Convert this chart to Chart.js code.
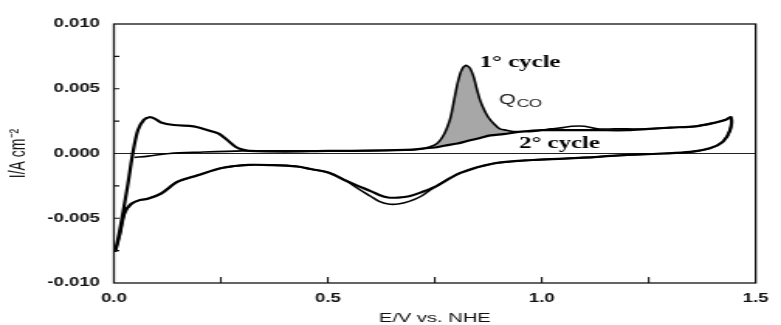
<!DOCTYPE html>
<html>
<head>
<meta charset="utf-8">
<script src="https://cdn.jsdelivr.net/npm/chart.js@4/dist/chart.umd.min.js"></script>
<style>
  html, body { margin: 0; padding: 0; background: #fff; overflow: hidden; }
  /* the original figure is stretched sideways, so draw narrow and scale */
  #wrap { width: 504px; height: 325px; transform: scaleX(1.5496); transform-origin: 0 0; }
</style>
</head>
<body>
<div id="wrap"><canvas id="cv" width="504" height="325"></canvas></div>
<script>
// 1st cycle, anodic sweep (CO stripping peak)
const c1AnodE = [0.048, 0.08, 0.13, 0.2, 0.3, 0.4, 0.5, 0.6, 0.66, 0.7, 0.726, 0.749, 0.762, 0.772, 0.78, 0.787, 0.795, 0.803, 0.812, 0.822, 0.832, 0.841, 0.848, 0.856, 0.865, 0.875, 0.888, 0.902, 0.918, 0.933, 0.956, 0.979, 1.02, 1.05, 1.07, 1.1, 1.13, 1.17, 1.2, 1.25, 1.3, 1.36, 1.407, 1.43, 1.442];
const c1AnodI = [-0.0003, -0.0002, 0.0, 0.0001, 0.0002, 0.0002, 0.0002, 0.00022, 0.00025, 0.0003, 0.0004, 0.00064, 0.001, 0.0015, 0.0021, 0.0028, 0.0041, 0.0054, 0.0064, 0.0068, 0.0066, 0.0059, 0.005, 0.0041, 0.0034, 0.0028, 0.0023, 0.0019, 0.0018, 0.0017, 0.0017, 0.0017, 0.0019, 0.002, 0.0021, 0.0021, 0.0019, 0.0019, 0.0019, 0.0019, 0.002, 0.0021, 0.0024, 0.0026, 0.0028];

// 2nd cycle, anodic sweep (clean Pt)
const c2AnodE = [0.003, 0.012, 0.021, 0.033, 0.044, 0.056, 0.07, 0.083, 0.095, 0.11, 0.14, 0.186, 0.21, 0.23, 0.247, 0.27, 0.285, 0.3, 0.316, 0.4, 0.5, 0.6, 0.7, 0.726, 0.749, 0.772, 0.803, 0.83, 0.856, 0.88, 0.91, 0.956, 1.0, 1.07, 1.13, 1.2, 1.25, 1.3, 1.36, 1.407, 1.43, 1.442];
const c2AnodI = [-0.0076, -0.0062, -0.0046, -0.0023, 0.0, 0.0018, 0.0026, 0.0028, 0.0027, 0.0024, 0.0022, 0.0021, 0.0019, 0.0017, 0.0015, 0.0009, 0.0005, 0.0003, 0.0002, 0.00015, 0.0002, 0.00022, 0.0003, 0.0004, 0.00046, 0.0006, 0.00077, 0.001, 0.0012, 0.0014, 0.0015, 0.0017, 0.0018, 0.0018, 0.0018, 0.0018, 0.0019, 0.002, 0.0021, 0.0024, 0.0026, 0.0028];

// cathodic sweeps (both cycles share potentials)
const cathE = [1.44, 1.423, 1.393, 1.347, 1.285, 1.2, 1.131, 1.05, 0.979, 0.887, 0.81, 0.749, 0.718, 0.69, 0.664, 0.641, 0.62, 0.6, 0.57, 0.542, 0.504, 0.46, 0.427, 0.37, 0.316, 0.255, 0.194, 0.148, 0.11, 0.079, 0.06, 0.04, 0.025, 0.014, 0.003];
const c1CathI = [0.0018, 0.0009, 0.0004, 0.00012, 0.0, -0.0001, -0.00026, -0.0004, -0.0005, -0.00077, -0.0015, -0.0026, -0.0033, -0.0037, -0.0039, -0.0039, -0.0037, -0.0033, -0.0027, -0.0021, -0.0015, -0.0012, -0.001, -0.0009, -0.00088, -0.0011, -0.0017, -0.0022, -0.0031, -0.0035, -0.0036, -0.0039, -0.0046, -0.0062, -0.0076];
const c2CathI = [0.0018, 0.0009, 0.0004, 0.00012, 0.0, -0.0001, -0.00026, -0.0004, -0.0005, -0.00077, -0.0015, -0.0026, -0.003, -0.0033, -0.0034, -0.0034, -0.0032, -0.0029, -0.0025, -0.0021, -0.0015, -0.0012, -0.001, -0.0009, -0.00088, -0.0011, -0.0017, -0.0022, -0.0031, -0.0035, -0.0036, -0.0039, -0.0046, -0.0062, -0.0076];

// Q_CO shaded region limits
const qcoFrom = 0.72;
const qcoTo = 0.96;

// axis ticks
const xTickMarks = [0.25, 0.5, 0.75, 1.0, 1.25];
const yTickMarks = [-0.0075, -0.005, -0.0025, 0.0025, 0.005, 0.0075];

// text notes placed in data coordinates
const noteText = ['1° cycle', '2° cycle'];
const noteE = [0.855, 0.947];
const noteI = [0.00697, 0.00077];
const qcoLabelE = 0.9;
const qcoLabelI = 0.0041;

const toPts = (xs, ys) => xs.map((v, i) => ({ x: v, y: ys[i] }));
const inQco = (p) => p.x >= qcoFrom && p.x <= qcoTo;

const cycle1 = toPts(c1AnodE, c1AnodI).concat(toPts(cathE, c1CathI));
const cycle2 = toPts(c2AnodE, c2AnodI).concat(toPts(cathE, c2CathI));
const qcoTop = toPts(c1AnodE, c1AnodI).filter(inQco);
const qcoBottom = toPts(c2AnodE, c2AnodI).filter(inQco);

const decor = {
  id: 'decor',
  afterDraw(chart) {
    const { ctx, chartArea: a, scales: { x, y } } = chart;
    ctx.save();
    ctx.strokeStyle = '#111';
    ctx.lineWidth = 1.3;
    ctx.strokeRect(a.left, a.top, a.right - a.left, a.bottom - a.top);

    ctx.lineWidth = 1.1;
    ctx.beginPath();
    xTickMarks.forEach((v) => {
      const px = x.getPixelForValue(v);
      ctx.moveTo(px, a.bottom);
      ctx.lineTo(px, a.bottom - 6);
    });
    yTickMarks.forEach((v) => {
      const py = y.getPixelForValue(v);
      ctx.moveTo(a.left, py);
      ctx.lineTo(a.left + 3.5, py);
    });
    ctx.stroke();

    ctx.fillStyle = '#000';
    ctx.textBaseline = 'middle';
    ctx.textAlign = 'left';
    ctx.font = 'bold 16px "Liberation Serif", "Times New Roman", serif';
    noteText.forEach((t, i) => {
      ctx.fillText(t, x.getPixelForValue(noteE[i]), y.getPixelForValue(noteI[i]));
    });

    ctx.fillStyle = '#222';
    const qx = x.getPixelForValue(qcoLabelE);
    const qy = y.getPixelForValue(qcoLabelI);
    ctx.font = '14px "Liberation Sans", Arial, sans-serif';
    ctx.fillText('Q', qx, qy);
    const qw = ctx.measureText('Q').width;
    ctx.font = '11px "Liberation Sans", Arial, sans-serif';
    ctx.fillText('CO', qx + qw + 0.5, qy + 4);
    ctx.restore();
  }
};

const tickFont = { family: '"Liberation Sans", Arial, sans-serif', size: 12, weight: 'bold' };

new Chart(document.getElementById('cv'), {
  type: 'scatter',
  data: {
    datasets: [
      { data: cycle2, showLine: true, borderColor: '#000', borderWidth: 2.2, pointRadius: 0, tension: 0.3, fill: false },
      { data: cycle1, showLine: true, borderColor: '#000', borderWidth: 1.6, pointRadius: 0, tension: 0.3, fill: false },
      { data: qcoTop, showLine: true, borderWidth: 0, borderColor: 'rgba(0,0,0,0)', pointRadius: 0, tension: 0.3, fill: '+1', backgroundColor: '#a7a7a7' },
      { data: qcoBottom, showLine: true, borderWidth: 0, borderColor: 'rgba(0,0,0,0)', pointRadius: 0, tension: 0.3, fill: false }
    ]
  },
  options: {
    responsive: false,
    animation: false,
    devicePixelRatio: 1,
    layout: { padding: { left: 0, top: 24, right: 9, bottom: 0 } },
    plugins: { legend: { display: false }, tooltip: { enabled: false } },
    scales: {
      x: {
        type: 'linear',
        min: 0,
        max: 1.5,
        afterFit: (s) => { s.height = 42; },
        grid: { display: false, drawTicks: false },
        border: { display: false },
        ticks: { stepSize: 0.5, padding: 8, color: '#111', font: tickFont, callback: (v) => v.toFixed(1), maxRotation: 0 },
        title: { display: true, text: 'E/V vs. NHE', color: '#111', padding: { top: 0, bottom: -1.5 }, font: { family: '"Liberation Sans", Arial, sans-serif', size: 13 } }
      },
      y: {
        min: -0.01,
        max: 0.01,
        afterFit: (s) => { s.width = 73.5; },
        grid: { drawTicks: false, lineWidth: 1, color: (c) => (c.tick && c.tick.value === 0 ? '#222' : 'rgba(0,0,0,0)') },
        border: { display: false },
        ticks: { stepSize: 0.005, padding: 9, color: '#111', font: tickFont, callback: (v) => v.toFixed(3) },
        title: { display: true, text: 'I/A cm⁻²', color: '#111', padding: { top: 4, bottom: 0 }, font: { family: '"Liberation Sans", Arial, sans-serif', size: 14 } }
      }
    }
  },
  plugins: [decor]
});
</script>
</body>
</html>
